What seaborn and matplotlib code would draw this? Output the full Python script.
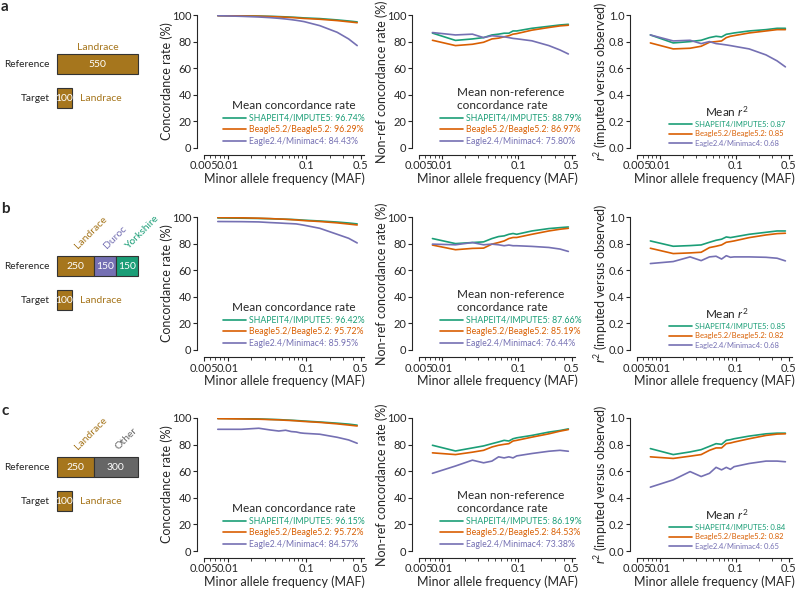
import numpy as np
import pandas as pd
import seaborn as sns
import matplotlib.pyplot as plt
from matplotlib.ticker import FixedLocator, NullFormatter

sns.set_theme(style='ticks')
plt.rcParams['font.family'] = ['Lato', 'DejaVu Sans']
plt.rcParams['mathtext.fontset'] = 'custom'
plt.rcParams['mathtext.rm'] = 'Lato'
plt.rcParams['mathtext.it'] = 'Lato:italic'

W, H = 798, 591

# MAF bins (midpoints)
maf = [0.0075, 0.015, 0.025, 0.035, 0.045, 0.055, 0.065, 0.075, 0.085, 0.095, 0.15, 0.25, 0.35, 0.45]
methods = ['SHAPEIT4/IMPUTE5', 'Beagle5.2/Beagle5.2', 'Eagle2.4/Minimac4']
colors = ['#1b9e77', '#d95f02', '#7570b3']

# ---- row a : Landrace reference ----
conc_a_shapeit = [99.6, 99.4, 99.2, 99.0, 98.8, 98.6, 98.4, 98.2, 98.0, 97.8, 97.3, 96.3, 95.5, 94.8]
conc_a_beagle = [99.5, 99.3, 99.1, 98.8, 98.6, 98.3, 98.1, 97.9, 97.6, 97.4, 96.8, 95.8, 94.9, 94.2]
conc_a_eagle = [99.5, 99.0, 98.5, 98.0, 97.5, 97.0, 96.5, 96.0, 95.5, 95.0, 92.0, 87.0, 82.0, 77.0]
nrc_a_shapeit = [86.4, 80.9, 82.0, 83.0, 85.0, 85.6, 86.3, 86.3, 88.0, 88.0, 90.0, 91.5, 92.5, 93.0]
nrc_a_beagle = [81.0, 77.0, 78.0, 79.5, 82.0, 82.6, 83.6, 84.4, 85.6, 86.0, 88.6, 90.6, 91.8, 92.3]
nrc_a_eagle = [86.8, 85.0, 85.6, 83.0, 84.4, 84.0, 83.6, 83.0, 82.4, 82.1, 80.6, 77.0, 73.7, 70.7]
r2_a_shapeit = [0.85, 0.79, 0.80, 0.81, 0.83, 0.84, 0.835, 0.855, 0.86, 0.865, 0.88, 0.89, 0.90, 0.90]
r2_a_beagle = [0.79, 0.745, 0.75, 0.765, 0.795, 0.80, 0.805, 0.83, 0.84, 0.845, 0.865, 0.88, 0.89, 0.89]
r2_a_eagle = [0.85, 0.805, 0.81, 0.785, 0.80, 0.785, 0.78, 0.775, 0.77, 0.765, 0.745, 0.70, 0.655, 0.61]

# ---- row b : Landrace + Duroc + Yorkshire reference ----
conc_b_shapeit = [99.3, 99.1, 98.9, 98.7, 98.5, 98.3, 98.2, 98.0, 97.8, 97.6, 97.0, 96.2, 95.5, 94.8]
conc_b_beagle = [99.6, 99.4, 99.1, 98.8, 98.5, 98.3, 98.0, 97.8, 97.5, 97.3, 96.6, 95.6, 94.7, 94.0]
conc_b_eagle = [96.6, 96.5, 96.3, 95.8, 95.5, 95.2, 95.0, 94.8, 94.3, 93.8, 91.5, 87.0, 84.0, 80.5]
nrc_b_shapeit = [83.8, 80.0, 80.8, 81.3, 83.8, 85.3, 85.8, 87.0, 87.6, 87.0, 89.5, 91.3, 92.0, 92.5]
nrc_b_beagle = [78.9, 75.4, 76.4, 76.6, 79.6, 80.8, 82.0, 83.8, 84.6, 84.6, 87.0, 89.5, 90.8, 91.5]
nrc_b_eagle = [79.6, 79.1, 80.8, 79.1, 79.6, 79.1, 78.4, 78.9, 78.4, 78.4, 77.9, 77.1, 75.9, 74.1]
r2_b_shapeit = [0.82, 0.78, 0.785, 0.79, 0.81, 0.825, 0.833, 0.85, 0.845, 0.85, 0.87, 0.885, 0.895, 0.895]
r2_b_beagle = [0.765, 0.725, 0.73, 0.735, 0.77, 0.78, 0.79, 0.81, 0.815, 0.82, 0.845, 0.865, 0.875, 0.878]
r2_b_eagle = [0.65, 0.665, 0.70, 0.672, 0.70, 0.705, 0.684, 0.709, 0.697, 0.70, 0.70, 0.697, 0.69, 0.67]

# ---- row c : Landrace + Other reference ----
conc_c_shapeit = [99.7, 99.5, 99.3, 99.0, 98.8, 98.5, 98.3, 98.1, 97.9, 97.7, 97.0, 96.1, 95.4, 94.6]
conc_c_beagle = [99.5, 99.3, 99.1, 98.8, 98.6, 98.3, 98.1, 97.9, 97.6, 97.4, 96.7, 95.6, 94.7, 94.0]
conc_c_eagle = [91.5, 91.5, 92.3, 91.0, 90.2, 90.8, 89.8, 89.5, 88.8, 88.5, 87.8, 85.5, 83.5, 81.0]
nrc_c_shapeit = [79.5, 75.2, 77.5, 79.0, 80.7, 82.0, 83.2, 82.7, 84.4, 85.1, 86.9, 89.4, 90.6, 91.8]
nrc_c_beagle = [73.8, 72.5, 74.3, 75.7, 78.2, 79.5, 80.2, 80.7, 82.7, 83.2, 85.6, 88.1, 90.1, 91.3]
nrc_c_eagle = [58.4, 63.9, 68.3, 66.3, 67.6, 70.8, 70.0, 70.8, 70.0, 71.5, 73.3, 75.0, 75.7, 75.0]
r2_c_shapeit = [0.77, 0.725, 0.745, 0.762, 0.787, 0.807, 0.802, 0.832, 0.837, 0.844, 0.864, 0.881, 0.886, 0.886]
r2_c_beagle = [0.708, 0.696, 0.713, 0.725, 0.757, 0.775, 0.775, 0.807, 0.812, 0.819, 0.844, 0.869, 0.879, 0.881]
r2_c_eagle = [0.48, 0.535, 0.597, 0.56, 0.584, 0.629, 0.61, 0.629, 0.614, 0.634, 0.658, 0.676, 0.676, 0.671]

# mean values shown in the legends
conc_means = [[96.74, 96.29, 84.43], [96.42, 95.72, 85.95], [96.15, 95.72, 84.57]]
nrc_means = [[88.79, 86.97, 75.80], [87.66, 85.19, 76.44], [86.19, 84.53, 73.38]]
r2_means = [[0.87, 0.85, 0.68], [0.85, 0.82, 0.68], [0.84, 0.82, 0.65]]

# reference panel composition
ref_groups = [['Landrace'], ['Landrace', 'Duroc', 'Yorkshire'], ['Landrace', 'Other']]
ref_sizes = [[550], [250, 150, 150], [250, 300]]
target_size = 100
breed_colors = {'Landrace': '#a6761d', 'Duroc': '#7570b3',
                'Yorkshire': '#1b9e77', 'Other': '#666666'}

series = {
    ('conc', 0): [conc_a_shapeit, conc_a_beagle, conc_a_eagle],
    ('nrc', 0): [nrc_a_shapeit, nrc_a_beagle, nrc_a_eagle],
    ('r2', 0): [r2_a_shapeit, r2_a_beagle, r2_a_eagle],
    ('conc', 1): [conc_b_shapeit, conc_b_beagle, conc_b_eagle],
    ('nrc', 1): [nrc_b_shapeit, nrc_b_beagle, nrc_b_eagle],
    ('r2', 1): [r2_b_shapeit, r2_b_beagle, r2_b_eagle],
    ('conc', 2): [conc_c_shapeit, conc_c_beagle, conc_c_eagle],
    ('nrc', 2): [nrc_c_shapeit, nrc_c_beagle, nrc_c_eagle],
    ('r2', 2): [r2_c_shapeit, r2_c_beagle, r2_c_eagle],
}
means = {'conc': conc_means, 'nrc': nrc_means, 'r2': r2_means}

fig = plt.figure(figsize=(W / 100, H / 100), dpi=100)


def px_axes(left, top, width, height):
    return fig.add_axes([left / W, 1 - (top + height) / H, width / W, height / H])


col_left = {'conc': 204, 'nrc': 419, 'r2': 637}
col_width = {'conc': 160, 'nrc': 156, 'r2': 155}
row_top = [15, 217, 418]
row_h = 133
ylabels = {'conc': 'Concordance rate (%)', 'nrc': 'Non-ref concordance rate (%)',
           'r2': '$r^2$ (imputed versus observed)'}
titles = {'conc': 'Mean concordance rate', 'nrc': 'Mean non-reference\nconcordance rate',
          'r2': 'Mean $r^2$'}
leg_x = {'conc': 0.08, 'nrc': 0.095, 'r2': 0.17}
leg_fs = {'conc': 6.3, 'nrc': 6.3, 'r2': 5.5}
leg_hl = {'conc': 2.6, 'nrc': 2.6, 'r2': 3.0}

for row in range(3):
    for metric in ['conc', 'nrc', 'r2']:
        ax = px_axes(col_left[metric], row_top[row], col_width[metric], row_h)
        vals = series[(metric, row)]
        m = means[metric][row]
        if metric == 'r2':
            labels = [f'{meth}: {v:.2f}' for meth, v in zip(methods, m)]
        else:
            labels = [f'{meth}: {v:.2f}%' for meth, v in zip(methods, m)]
        df = pd.DataFrame({
            'maf': maf * 3,
            'value': vals[0] + vals[1] + vals[2],
            'method': [labels[0]] * len(maf) + [labels[1]] * len(maf) + [labels[2]] * len(maf),
        })
        sns.lineplot(data=df, x='maf', y='value', hue='method', hue_order=labels,
                     palette=colors, linewidth=1.2, ax=ax)
        ax.set_xscale('log')
        ax.set_xlim(0.005, 0.55)
        ax.xaxis.set_major_locator(FixedLocator([0.005, 0.01, 0.1, 0.5]))
        ax.set_xticklabels(['0.005', '0.01', '0.1', '0.5'])
        minors = [0.006, 0.007, 0.008, 0.009] + [i / 100 for i in range(2, 10)] + [0.2, 0.3, 0.4]
        ax.xaxis.set_minor_locator(FixedLocator(minors))
        ax.xaxis.set_minor_formatter(NullFormatter())
        if metric == 'r2':
            ax.set_ylim(0, 1.0)
            ax.set_yticks([0, 0.2, 0.4, 0.6, 0.8, 1.0])
            ax.set_yticklabels(['0.0', '0.2', '0.4', '0.6', '0.8', '1.0'])
        else:
            ax.set_ylim(0, 100)
            ax.set_yticks([0, 20, 40, 60, 80, 100])
        ax.set_xlabel('Minor allele frequency (MAF)', fontsize=9, labelpad=1)
        ax.set_ylabel(ylabels[metric], fontsize=9, labelpad=-1)
        ax.tick_params(axis='both', which='major', labelsize=8, length=2.8, width=0.8, pad=1.2)
        ax.tick_params(axis='x', which='minor', length=2.2, width=0.6)
        sns.despine(ax=ax, offset=5)
        for s in ['left', 'bottom']:
            ax.spines[s].set_linewidth(0.8)
        handles, labs = ax.get_legend_handles_labels()
        ax.legend(handles, labs, title=titles[metric], loc='lower left',
                  bbox_to_anchor=(leg_x[metric], -0.03), frameon=False, fontsize=leg_fs[metric],
                  title_fontsize=8.5, labelcolor='linecolor', handlelength=leg_hl[metric],
                  handletextpad=0.4, labelspacing=0.3, borderpad=0.2)

# schematic of reference / target panels
for row in range(3):
    ax = px_axes(0, row_top[row] + 5, 190, 119)
    groups = ref_groups[row]
    sizes = ref_sizes[row]
    lefts = np.cumsum([0] + sizes[:-1])
    ax.barh([1] * len(sizes), sizes, left=lefts, height=0.6,
            color=[breed_colors[g] for g in groups], edgecolor='#333333', linewidth=0.8)
    ax.barh([0], [target_size], height=0.6, color=breed_colors['Landrace'],
            edgecolor='#333333', linewidth=0.8)
    for g, s, l in zip(groups, sizes, lefts):
        ax.text(l + s / 2, 1, str(s), color='white', ha='center', va='center', fontsize=7.5)
        if len(groups) == 1:
            ax.text(l + s / 2, 1.36, g, color=breed_colors[g], ha='center', va='bottom', fontsize=7.5)
        else:
            ax.text(l + s / 2 + 25, 1.45, g, color=breed_colors[g], rotation=45,
                    rotation_mode='anchor', ha='left', va='bottom', fontsize=7.5)
    ax.text(target_size / 2, 0, str(target_size), color='white', ha='center', va='center', fontsize=7.5)
    ax.text(target_size + 54, 0, 'Landrace', color=breed_colors['Landrace'],
            ha='left', va='center', fontsize=7.5)
    ax.text(-48, 1, 'Reference', ha='right', va='center', fontsize=7.3, color='#222222')
    ax.text(-48, 0, 'Target', ha='right', va='center', fontsize=7.3, color='#222222')
    ax.set_xlim(-387, 903)
    ax.set_ylim(-1.2, 2.3)
    ax.axis('off')

for letter, top in zip(['a', 'b', 'c'], [0, 202, 404]):
    fig.text(1 / W, 1 - top / H, letter, fontsize=11, fontweight='bold', va='top', ha='left')

fig.savefig('out.png', dpi=100)
